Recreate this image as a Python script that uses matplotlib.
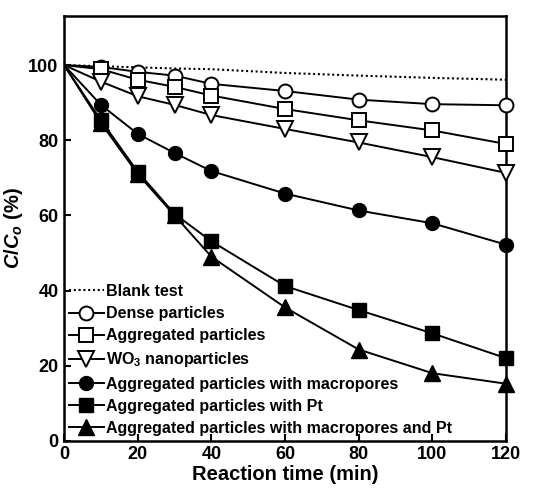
#!/usr/bin/env python3
"""
Photocatalytic degradation curves (C/Co vs reaction time)
"""

import matplotlib
matplotlib.use('Agg')
import matplotlib.pyplot as plt

plt.rcParams['font.family'] = ['Liberation Sans', 'DejaVu Sans']
plt.rcParams['font.weight'] = 'bold'
plt.rcParams['mathtext.fontset'] = 'custom'
plt.rcParams['mathtext.rm'] = 'Liberation Sans:bold'
plt.rcParams['mathtext.it'] = 'Liberation Sans:italic:bold'
plt.rcParams['mathtext.bf'] = 'Liberation Sans:bold'

# 데이터
time_min = [0, 10, 20, 30, 40, 60, 80, 100, 120]
blank_test = [100, 99.7, 99.4, 99.1, 98.9, 97.9, 97.2, 96.6, 96.1]
dense = [100, 99.5, 98.2, 97.2, 95.0, 93.1, 90.8, 89.6, 89.3]
aggregated = [100, 98.9, 96.1, 94.2, 91.9, 88.3, 85.3, 82.6, 79.0]
wo3_nano = [100, 95.6, 91.7, 89.4, 86.7, 83.0, 79.4, 75.5, 71.3]
agg_macro = [100, 89.4, 81.7, 76.6, 71.8, 65.8, 61.3, 57.9, 52.2]
agg_pt = [100, 85.3, 71.6, 60.4, 53.1, 41.2, 34.8, 28.6, 22.0]
agg_macro_pt = [100, 84.6, 71.0, 60.0, 49.0, 35.5, 24.3, 18.0, 15.2]

labels = ['Blank test', 'Dense particles', 'Aggregated particles',
          r'WO$_3$ nanoparticles', 'Aggregated particles with macropores',
          'Aggregated particles with Pt',
          'Aggregated particles with macropores and Pt']

fig = plt.figure(figsize=(5.43, 4.92), dpi=100)
ax = fig.add_axes([0.118, 0.104, 0.814, 0.863])

lw = 1.4
ms = 10
mew = 1.4

ax.plot(time_min, blank_test, color='black', linestyle=(0, (1, 1.3)),
        linewidth=1.5, label=labels[0])
ax.plot(time_min[1:], dense[1:], '-', color='black', linewidth=lw, marker='o',
        markersize=ms, markerfacecolor='white', markeredgewidth=mew,
        clip_on=False, zorder=3, label=labels[1])
ax.plot(time_min[1:], aggregated[1:], '-', color='black', linewidth=lw, marker='s',
        markersize=ms, markerfacecolor='white', markeredgewidth=mew,
        clip_on=False, zorder=3, label=labels[2])
ax.plot(time_min[1:], wo3_nano[1:], '-', color='black', linewidth=lw, marker='v',
        markersize=ms + 1, markerfacecolor='white', markeredgewidth=mew,
        clip_on=False, zorder=3, label=labels[3])
ax.plot(time_min[1:], agg_macro[1:], '-', color='black', linewidth=lw, marker='o',
        markersize=ms, clip_on=False, zorder=3, label=labels[4])
ax.plot(time_min[1:], agg_pt[1:], '-', color='black', linewidth=lw, marker='s',
        markersize=ms, clip_on=False, zorder=3, label=labels[5])
ax.plot(time_min[1:], agg_macro_pt[1:], '-', color='black', linewidth=lw, marker='^',
        markersize=ms + 1, clip_on=False, zorder=3, label=labels[6])

# 시작점(0분)에서 첫 측정점까지 선 연결
for series in [dense, aggregated, wo3_nano, agg_macro, agg_pt, agg_macro_pt]:
    ax.plot(time_min[:2], series[:2], '-', color='black', linewidth=lw, zorder=2)

ax.set_xlim(0, 120)
ax.set_ylim(0, 113)
ax.set_xticks([0, 20, 40, 60, 80, 100, 120])
ax.set_yticks([0, 20, 40, 60, 80, 100])
ax.tick_params(direction='in', length=5, width=1.5, labelsize=13, pad=4)
for s in ax.spines.values():
    s.set_linewidth(1.8)

ax.set_xlabel('Reaction time (min)', fontsize=14.5, fontweight='bold', labelpad=1)
ax.set_ylabel(r'$C/C_o$ (%)', fontsize=14.5, fontweight='bold', labelpad=2)

ax.legend(loc='lower left', frameon=False, fontsize=11.5, handlelength=2.2,
          handletextpad=0.15, labelspacing=0.45, borderpad=0.1, borderaxespad=0.2)

plt.savefig('out.png', dpi=100)
plt.close()
